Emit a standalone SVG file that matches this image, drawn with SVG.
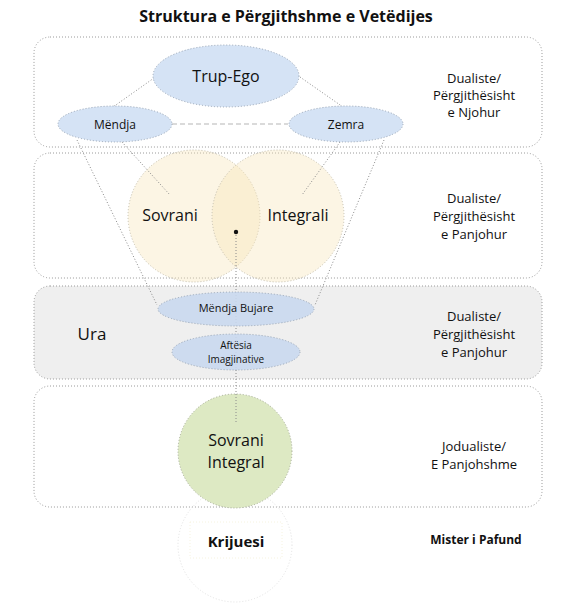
<svg xmlns="http://www.w3.org/2000/svg" width="573" height="603" viewBox="0 0 573 603">
<style>
text{font-family:"Open Sans","Liberation Sans",sans-serif;fill:#111;text-anchor:middle;dominant-baseline:central}
.band{fill:#fff;stroke:#9a9a9a;stroke-width:1;stroke-dasharray:1 2}
.ell{fill:#d5e3f5;stroke:#9aa6b5;stroke-width:1;stroke-dasharray:1 2}
.ell2{fill:#c9d8ee;stroke:#9aa6b5;stroke-width:1;stroke-dasharray:1 2}
.circ{fill:#f6e6b8;fill-opacity:0.38;stroke:#c4bfae;stroke-width:1;stroke-dasharray:1 2}
.con{fill:none;stroke:#8a8a8a;stroke-width:1;stroke-dasharray:1 2}
.side{font-size:13px}
</style>
<rect width="573" height="603" fill="#fff"/>
<text x="286" y="16" style="font-size:16px;font-weight:bold">Struktura e Përgjithshme e Vetëdijes</text>

<g id="band1"><rect class="band" x="34" y="37" width="508" height="110" rx="16"/>
<text class="side" x="474" y="78">Dualiste/</text><text class="side" x="474" y="95">Përgjithësisht</text><text class="side" x="474" y="112">e Njohur</text></g>
<g id="band2"><rect class="band" x="34" y="153" width="508" height="125" rx="16"/>
<text class="side" x="474" y="198">Dualiste/</text><text class="side" x="474" y="216">Përgjithësisht</text><text class="side" x="474" y="234">e Panjohur</text></g>
<g id="band3"><rect class="band" x="34" y="286" width="508" height="93" rx="16" style="fill:#efefef"/>
<text x="92" y="333" style="font-size:17px">Ura</text>
<text class="side" x="474" y="316">Dualiste/</text><text class="side" x="474" y="334">Përgjithësisht</text><text class="side" x="474" y="352">e Panjohur</text></g>
<g id="band4"><rect class="band" x="34" y="386" width="508" height="121" rx="16"/>
<text class="side" x="474" y="446">Jodualiste/</text><text class="side" x="474" y="464">E Panjohshme</text></g>

<g id="sovrani"><circle class="circ" cx="194" cy="216" r="66"/></g>
<g id="integrali"><circle class="circ" cx="278" cy="216" r="66"/></g>

<g id="connectors">
<line class="con" x1="154" y1="78" x2="113" y2="107"/>
<line class="con" x1="300" y1="77" x2="343" y2="107"/>
<line x1="172" y1="124" x2="288" y2="124" style="stroke:#b5b5b5;stroke-width:1;stroke-dasharray:5 3"/>
<line class="con" x1="77" y1="140" x2="157" y2="305"/>
<line class="con" x1="122" y1="142" x2="170" y2="195"/>
<line class="con" x1="340" y1="142" x2="302" y2="195"/>
<line class="con" x1="384" y1="140" x2="315" y2="305"/>
<line class="con" x1="236" y1="232" x2="236" y2="422"/>
</g>

<g id="trup-ego"><ellipse class="ell" cx="226" cy="76" rx="73" ry="31"/><text x="226" y="76" style="font-size:16px">Trup-Ego</text></g>
<g id="mendja"><ellipse class="ell" cx="115" cy="124" rx="57" ry="18"/><text x="115" y="124" style="font-size:12px">Mëndja</text></g>
<g id="zemra"><ellipse class="ell" cx="346" cy="124" rx="57" ry="18"/><text x="346" y="124" style="font-size:12px">Zemra</text></g>

<text x="170" y="215" style="font-size:16px">Sovrani</text>
<text x="298" y="215" style="font-size:16px">Integrali</text>
<circle cx="236" cy="232" r="2.2" fill="#111"/>

<g id="mendja-bujare"><ellipse class="ell2" cx="236" cy="309" rx="78" ry="17" style="fill-opacity:0.9"/><text x="236" y="307" style="font-size:11px">Mëndja Bujare</text></g>
<g id="aftesia"><ellipse class="ell2" cx="236" cy="352" rx="64" ry="18" style="fill-opacity:0.9"/><text x="236" y="345" style="font-size:10px">Aftësia</text><text x="236" y="359" style="font-size:10px">Imagjinative</text></g>

<g id="krijuesi"><circle cx="235" cy="545" r="57" fill="none" stroke="#e2e2e2" stroke-width="1" stroke-dasharray="1 2"/>
<rect x="190" y="522" width="92" height="36" fill="none" stroke="#f6f3e0" stroke-width="1" stroke-dasharray="1 2"/>
<text x="236" y="541" style="font-size:15px;font-weight:bold">Krijuesi</text></g>
<g id="sovrani-integral"><circle cx="235" cy="451" r="57" fill="#dde9c3" stroke="#a5ab98" stroke-width="1" stroke-dasharray="1 2"/>
<line class="con" x1="236" y1="394" x2="236" y2="422"/>
<text x="236" y="440" style="font-size:16px">Sovrani</text><text x="236" y="462" style="font-size:16px">Integral</text></g>

<text x="476" y="539" style="font-size:12px;font-weight:bold">Mister i Pafund</text>
</svg>
